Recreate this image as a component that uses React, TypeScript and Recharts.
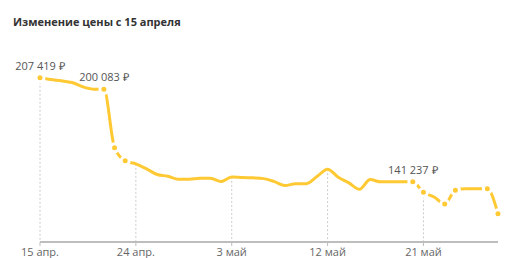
import { LineChart, Line, XAxis, YAxis, ReferenceLine } from "recharts"

// one price per day, starting 15 April
const prices = [
  207419, 206300, 205500, 204400, 201700, 200200, 200083, 162900, 154600, 152700,
  149500, 145900, 144800, 142900, 142900, 143500, 143500, 141400, 144400, 144000,
  143800, 143300, 141400, 138900, 140100, 140100, 144600, 149300, 144200, 140600,
  136500, 142700, 141237, 141237, 141237, 141237, 134600, 131600, 127100, 135900,
  136800, 136800, 136800, 120900,
]
const tickDays = [0, 9, 18, 27, 36]
const tickLabels = ["15 апр.", "24 апр.", "3 май", "12 май", "21 май"]
const markedDays = [0, 6, 7, 8, 35, 36, 38, 39, 42, 43]
const labeledDays = [0, 6, 35]

const data = prices.map((price, day) => ({ day, price }))

const Y_MIN = 103000
const Y_MAX = 220000
const YELLOW = "#FFC933"
const FONT = "'Open Sans', sans-serif"

const formatPrice = (v: number) =>
  `${Math.floor(v / 1000)} ${String(v % 1000).padStart(3, "0")} ₽`

const renderDot = (props: any) => {
  const { cx, cy, index } = props
  if (!markedDays.includes(index)) return <g key={`d${index}`} />
  return (
    <g key={`d${index}`}>
      <circle cx={cx} cy={cy} r={4} fill={YELLOW} stroke="#fff" strokeWidth={3} />
      {labeledDays.includes(index) && (
        <text x={cx} y={cy - 8} textAnchor="middle" fontSize={11} fill="#555" fontFamily={FONT}>
          {formatPrice(prices[index])}
        </text>
      )}
    </g>
  )
}

export default function App() {
  return (
    <div style={{ position: "absolute", left: 0, top: 0, width: 522, height: 258, background: "#fff", fontFamily: FONT }}>
      <div style={{ position: "absolute", left: 13, top: 14, fontSize: 11, lineHeight: "16px", fontWeight: 700, color: "#333" }}>
        Изменение цены с 15 апреля
      </div>
      <LineChart width={522} height={258} data={data} margin={{ top: 58, right: 24, left: 40, bottom: 0 }}>
        <XAxis
          dataKey="day"
          type="number"
          domain={[0, 43]}
          ticks={tickDays}
          tickFormatter={(d) => tickLabels[tickDays.indexOf(d)]}
          axisLine={{ stroke: "#bdbdbd", strokeWidth: 2 }}
          tickLine={{ stroke: "#bdbdbd" }}
          tickSize={4}
          height={16}
          tick={{ fontSize: 11, fill: "#666", fontFamily: FONT }}
        />
        <YAxis hide domain={[Y_MIN, Y_MAX]} />
        {tickDays.map((d) => (
          <ReferenceLine
            key={d}
            segment={[{ x: d, y: prices[d] }, { x: d, y: Y_MIN }]}
            stroke="#ccc"
            strokeDasharray="2 2"
          />
        ))}
        <Line
          type="monotone"
          dataKey="price"
          stroke={YELLOW}
          strokeWidth={3}
          dot={renderDot}
          activeDot={false}
          isAnimationActive={false}
        />
      </LineChart>
    </div>
  )
}
